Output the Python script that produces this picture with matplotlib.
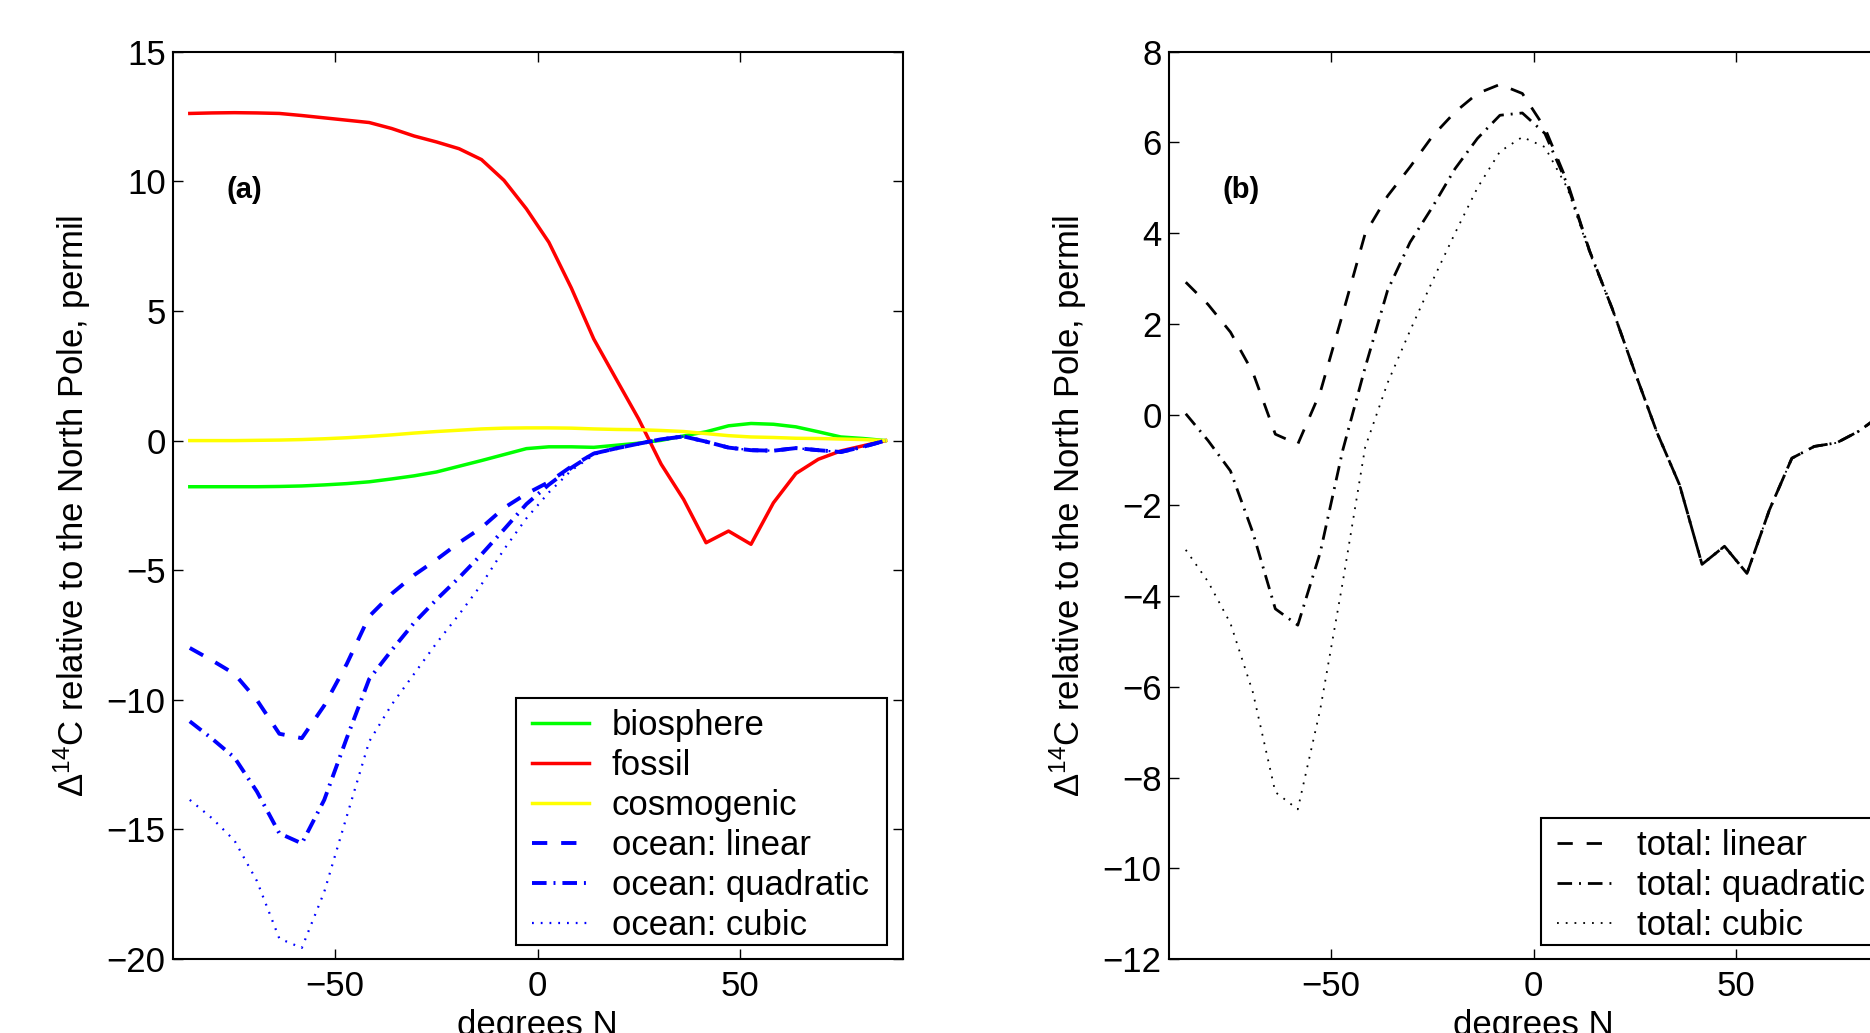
import numpy as np
import matplotlib
matplotlib.use("Agg")
import matplotlib.pyplot as plt
from matplotlib.patches import Rectangle

# latitudes (T21 gaussian grid), degrees N
lat = [-85.76, -80.27, -74.74, -69.21, -63.68, -58.14, -52.61, -47.07,
       -41.53, -36.00, -30.46, -24.92, -19.38, -13.84, -8.30, -2.77,
       2.77, 8.30, 13.84, 19.38, 24.92, 30.46, 36.00, 41.53,
       47.07, 52.61, 58.14, 63.68, 69.21, 74.74, 80.27, 85.76]

# panel (a): components, permil relative to the North Pole
biosphere = [-1.78, -1.78, -1.78, -1.78, -1.77, -1.75, -1.71, -1.66,
             -1.59, -1.48, -1.36, -1.21, -0.99, -0.77, -0.54, -0.31,
             -0.24, -0.24, -0.26, -0.18, -0.10, 0.01, 0.18, 0.34,
             0.57, 0.66, 0.63, 0.53, 0.34, 0.14, 0.08, 0.0]
fossil = [12.62, 12.64, 12.65, 12.64, 12.62, 12.54, 12.45, 12.36,
          12.27, 12.04, 11.75, 11.52, 11.26, 10.84, 10.04, 8.94,
          7.65, 5.89, 3.92, 2.37, 0.83, -0.91, -2.27, -3.94,
          -3.49, -4.00, -2.40, -1.27, -0.72, -0.40, -0.20, 0.0]
cosmogenic = [0.0, 0.0, 0.0, 0.01, 0.02, 0.04, 0.07, 0.11,
              0.16, 0.22, 0.29, 0.35, 0.40, 0.45, 0.48, 0.49,
              0.49, 0.48, 0.45, 0.43, 0.42, 0.39, 0.35, 0.27,
              0.19, 0.14, 0.12, 0.09, 0.08, 0.06, 0.04, 0.0]
ocean_linear = [-8.00, -8.48, -9.00, -10.01, -11.31, -11.48, -10.22, -8.62,
                -6.78, -5.91, -5.19, -4.59, -3.94, -3.36, -2.60, -2.05,
                -1.60, -1.00, -0.50, -0.30, -0.12, 0.05, 0.16, -0.04,
                -0.27, -0.37, -0.39, -0.29, -0.37, -0.44, -0.24, 0.0]
ocean_quadratic = [-10.83, -11.50, -12.23, -13.54, -15.15, -15.54, -13.86, -11.48,
                   -9.20, -8.09, -7.03, -6.13, -5.29, -4.39, -3.43, -2.45,
                   -1.70, -1.05, -0.50, -0.30, -0.12, 0.05, 0.16, -0.04,
                   -0.27, -0.37, -0.39, -0.29, -0.37, -0.44, -0.24, 0.0]
ocean_cubic = [-13.86, -14.57, -15.43, -16.99, -19.21, -19.57, -17.41, -14.50,
               -11.61, -10.19, -9.00, -7.81, -6.71, -5.55, -4.20, -3.00,
               -2.00, -1.15, -0.55, -0.30, -0.12, 0.05, 0.16, -0.04,
               -0.27, -0.37, -0.39, -0.29, -0.37, -0.44, -0.24, 0.0]

# panel (b): totals
total_linear = [2.92, 2.43, 1.82, 0.93, -0.43, -0.65, 0.49, 2.22,
                3.99, 4.82, 5.46, 6.14, 6.67, 7.08, 7.28, 7.08,
                6.32, 5.13, 3.60, 2.34, 0.95, -0.40, -1.55, -3.30,
                -2.90, -3.50, -2.10, -0.96, -0.70, -0.62, -0.36, 0.0]
total_quadratic = [0.02, -0.57, -1.24, -2.60, -4.28, -4.64, -3.04, -0.79,
                   1.04, 2.74, 3.80, 4.58, 5.42, 6.09, 6.60, 6.65,
                   6.20, 5.08, 3.60, 2.34, 0.95, -0.40, -1.55, -3.30,
                   -2.90, -3.50, -2.10, -0.96, -0.70, -0.62, -0.36, 0.0]
total_cubic = [-2.98, -3.68, -4.60, -6.12, -8.32, -8.70, -6.50, -3.70,
               -0.72, 0.70, 1.85, 2.95, 4.00, 5.00, 5.80, 6.12,
               5.90, 5.00, 3.56, 2.34, 0.95, -0.40, -1.55, -3.30,
               -2.90, -3.50, -2.10, -0.96, -0.70, -0.62, -0.36, 0.0]

plt.rcParams['font.family'] = ['Liberation Sans', 'DejaVu Sans']
plt.rcParams['mathtext.fontset'] = 'custom'
plt.rcParams['mathtext.rm'] = 'Liberation Sans'
plt.rcParams['mathtext.default'] = 'regular'
plt.rcParams['lines.scale_dashes'] = False

FS = 25
DASH = (0, (11, 10))
DASHDOT = (0, (10.5, 5, 1.4, 5))
DOT = (0, (1.3, 5))

ylabel = r'$\Delta^{14}$C relative to the North Pole, permil'

fig = plt.figure(figsize=(18.7, 10.33), dpi=100)
ax1 = fig.add_axes([0.0923, 0.0716, 0.3904, 0.8783])
ax2 = fig.add_axes([0.6249, 0.0716, 0.3904, 0.8783])


def style_axes(ax):
    ax.set_xlim(-90, 90)
    ax.set_xticks([-50, 0, 50])
    ax.tick_params(direction='in', length=7, width=1, labelsize=FS,
                   top=True, right=True)
    ax.tick_params(axis='x', pad=8)
    ax.tick_params(axis='y', pad=5)
    for s in ax.spines.values():
        s.set_linewidth(1.5)
    ax.set_xlabel('degrees N', fontsize=FS, labelpad=4)
    ax.set_ylabel(ylabel, fontsize=FS, labelpad=10)


def legend_box(ax, x0, y0, w, h):
    # matlab style square legend frame
    r = Rectangle((x0, y0), w, h, transform=ax.transAxes, facecolor='white',
                  edgecolor='black', lw=1.5, zorder=4.9)
    ax.add_patch(r)


leg_kw = dict(fontsize=FS, frameon=False, handlelength=1.64,
              handletextpad=0.65, labelspacing=0.2, borderpad=0.1,
              borderaxespad=0)

# (a) components
ax1.plot(lat, biosphere, color=(0, 1, 0), lw=2.5, label='biosphere')
ax1.plot(lat, fossil, color=(1, 0, 0), lw=2.5, label='fossil')
ax1.plot(lat, cosmogenic, color=(1, 1, 0), lw=2.5, label='cosmogenic')
ax1.plot(lat, ocean_linear, color=(0, 0, 1), lw=2.8, ls=DASH, label='ocean: linear')
ax1.plot(lat, ocean_quadratic, color=(0, 0, 1), lw=2.8, ls=DASHDOT, label='ocean: quadratic')
ax1.plot(lat, ocean_cubic, color=(0, 0, 1), lw=1.6, ls=DOT, label='ocean: cubic')
ax1.set_ylim(-20, 15)
ax1.set_yticks(np.arange(-20, 16, 5))
style_axes(ax1)
ax1.text(0.0988, 0.8476, '(a)', transform=ax1.transAxes, fontsize=21,
         fontweight='bold', ha='center', va='center')
legend_box(ax1, 0.4708, 0.0154, 0.978 - 0.4708, 0.2877 - 0.0154)
ax1.legend(loc='lower right', bbox_to_anchor=(0.958, 0.0148), **leg_kw)

# (b) totals
ax2.plot(lat, total_linear, color='k', lw=2, ls=DASH, label='total: linear')
ax2.plot(lat, total_quadratic, color='k', lw=2, ls=DASHDOT, label='total: quadratic')
ax2.plot(lat, total_cubic, color='k', lw=1.3, ls=DOT, label='total: cubic')
ax2.set_ylim(-12, 8)
ax2.set_yticks(np.arange(-12, 9, 2))
style_axes(ax2)
ax2.text(0.0988, 0.8476, '(b)', transform=ax2.transAxes, fontsize=21,
         fontweight='bold', ha='center', va='center')
legend_box(ax2, 0.5095, 0.0154, 0.4832, 0.155 - 0.0154)
ax2.legend(loc='lower left', bbox_to_anchor=(0.5273, 0.0148), **leg_kw)

fig.savefig('out.png', dpi=100)
